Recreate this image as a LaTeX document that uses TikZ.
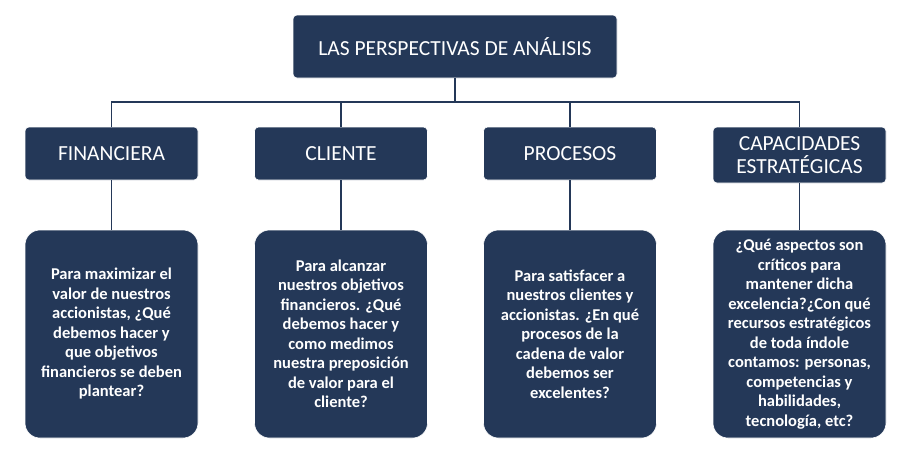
\documentclass[tikz,border=0pt]{standalone}
\usepackage{fontspec}
\setmainfont{Carlito}
\definecolor{navy}{HTML}{243858}
\begin{document}
\begin{tikzpicture}[x=1pt,y=-1pt,
  head/.style={fill=navy,draw=white,line width=0.6pt,rounded corners=4pt,text=white,font=\fontsize{21.5}{23}\selectfont,align=center,inner sep=0pt},
  body/.style={fill=navy,draw=white,line width=0.6pt,rounded corners=15pt,text=white,font=\bfseries\fontsize{16.5}{19.5}\selectfont,align=center,inner sep=0pt,minimum width=173pt,minimum height=208pt},
  conn/.style={draw=navy,line width=1.2pt}]
\useasboundingbox (0,0) rectangle (908,461);
\node[head,minimum width=324pt,minimum height=63pt] (top) at (455,46.5) {LAS PERSPECTIVAS DE ANÁLISIS};
\node[head,minimum width=173pt,minimum height=53pt] (h1) at (111.5,153.5) {FINANCIERA};
\node[head,minimum width=173pt,minimum height=53pt] (h2) at (341,153.5) {CLIENTE};
\node[head,minimum width=173pt,minimum height=53pt] (h3) at (570,153.5) {PROCESOS};
\node[head,minimum width=173pt,minimum height=56pt] (h4) at (799.5,155) {CAPACIDADES\\ESTRATÉGICAS};
\node[body] (b1) at (111.5,334) {Para maximizar el\\valor de nuestros\\accionistas, ¿Qué\\debemos hacer y\\que objetivos\\financieros se deben\\plantear?};
\node[body] (b2) at (341,334) {Para alcanzar\\nuestros objetivos\\financieros. ¿Qué\\debemos hacer y\\como medimos\\nuestra preposición\\de valor para el\\cliente?};
\node[body] (b3) at (570,334) {Para satisfacer a\\nuestros clientes y\\accionistas. ¿En qué\\procesos de la\\cadena de valor\\debemos ser\\excelentes?};
\node[body] (b4) at (799.5,334) {¿Qué aspectos son\\críticos para\\mantener dicha\\excelencia?¿Con qué\\recursos estratégicos\\de toda índole\\contamos: personas,\\competencias y\\habilidades,\\tecnología, etc?};
\coordinate (m) at (455,102);
\draw[conn] (top.south) -- (m);
\draw[conn] (h1.north) |- (m) -| (h4.north);
\draw[conn] (h2.north) -- (h2.north |- m);
\draw[conn] (h3.north) -- (h3.north |- m);
\foreach \i in {1,2,3,4} \draw[conn] (h\i.south) -- (b\i.north);
\end{tikzpicture}
\end{document}
